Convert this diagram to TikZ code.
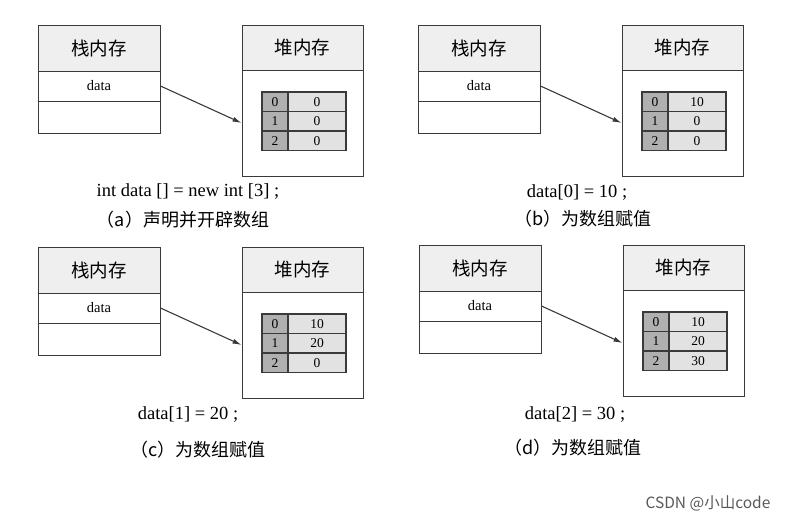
\documentclass[tikz,border=0pt]{standalone}
\usepackage{fontspec}
\setmainfont{Liberation Serif}
\newfontfamily\cjk{Noto Sans CJK SC}
\usetikzlibrary{arrows.meta}

\definecolor{edgegray}{HTML}{3A3A3A}
\definecolor{hdrgray}{HTML}{EFEFEF}
\definecolor{idxgray}{HTML}{B0B0B0}
\definecolor{valgray}{HTML}{E2E2E2}

\begin{document}
\begin{tikzpicture}[x=1pt,y=-1pt]
      \tikzset{
        box/.style={draw=edgegray, line width=0.9pt, inner sep=0pt},
        hdr/.style={box, fill=hdrgray, font=\cjk\fontsize{18.5}{20}\selectfont},
        row/.style={box, fill=white, font=\fontsize{14.5}{16}\selectfont},
        cell/.style={box, line width=1.1pt, minimum height=19.5pt, font=\fontsize{13.5}{15}\selectfont},
        codetext/.style={font=\fontsize{18.5}{20}\selectfont},
        captext/.style={font=\cjk\fontsize{18}{20}\selectfont}
      }
      \tikzset{
        pics/mempanel/.style args={#1/#2/#3}{
          code={
              % stack memory
              \node[hdr, minimum width=122pt, minimum height=46pt] (-stackhd) at (61,23) {栈内存};
              \node[row, minimum width=122pt, minimum height=30pt] (-data) at (61,61) {data};
              \node[row, minimum width=122pt, minimum height=32pt] (-free) at (61,92) {};
              % heap memory
              \node[hdr, minimum width=121pt, minimum height=45pt] (-heaphd) at (264.5,22.5) {堆内存};
              \node[box, fill=white, minimum width=121pt, minimum height=106pt] (-heap) at (264.5,98) {};
              \foreach \i/\v in {0/#1,1/#2,2/#3}{
                  \node[cell, fill=idxgray, minimum width=26pt] (-idx\i) at (237,{76.75+19.5*\i}) {\i};
                  \node[cell, fill=valgray, minimum width=58pt] (-val\i) at (279,{76.75+19.5*\i}) {\v};
                }
              \draw[-{Latex[length=9pt,width=5pt]}, edgegray, line width=1.1pt] (-data.east) -- (-heap.west);
            }
        }
      }

      \useasboundingbox (0,0) rectangle (786,521);

      \pic (pa) at (38,25) {mempanel=0/0/0};
      \pic (pb) at (418,25) {mempanel=10/0/0};
      \pic (pc) at (38,247) {mempanel=10/20/0};
      \pic (pd) at (419,245) {mempanel=10/20/30};

      \node[codetext] (codea) at (188,192) {int data [] = new int [3] ;};
      \node[captext] (capa) at (183,220) {（a）声明并开辟数组};
      \node[codetext] (codeb) at (577,193) {data[0] = 10 ;};
      \node[captext] (capb) at (583,219) {（b）为数组赋值};
      \node[codetext] (codec) at (188,415) {data[1] = 20 ;};
      \node[captext] (capc) at (198,450) {（c）为数组赋值};
      \node[codetext] (coded) at (575,415) {data[2] = 30 ;};
      \node[captext] (capd) at (573,448) {（d）为数组赋值};

      \node[font=\cjk\fontsize{15.5}{17}\selectfont, text=black!65] (mark) at (708,503) {CSDN @小山code};
    \end{tikzpicture}
\end{document}
